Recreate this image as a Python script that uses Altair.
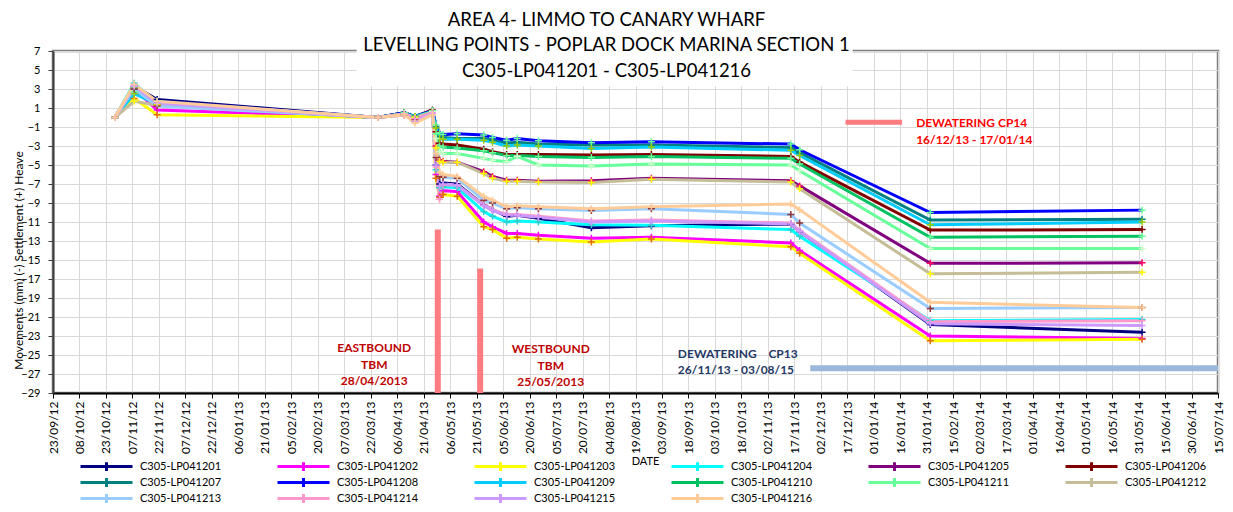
import altair as alt
import pandas as pd

# ---------------- text ----------------
TITLE = ["AREA 4- LIMMO TO CANARY WHARF",
         "LEVELLING POINTS - POPLAR DOCK MARINA SECTION 1",
         "C305-LP041201 - C305-LP041216"]
Y_TITLE = "Movements (mm) (-) Settlement (+) Heave"
X_TITLE = "DATE"

# ---------------- series ----------------
SERIES = ["C305-LP041201", "C305-LP041202", "C305-LP041203", "C305-LP041204",
          "C305-LP041205", "C305-LP041206", "C305-LP041207", "C305-LP041208",
          "C305-LP041209", "C305-LP041210", "C305-LP041211", "C305-LP041212",
          "C305-LP041213", "C305-LP041214", "C305-LP041215", "C305-LP041216"]
LINE_COLORS = ["#000080", "#FF00FF", "#FFFF00", "#00FFFF", "#800080", "#800000",
               "#008080", "#0000FF", "#00CCFF", "#00C060", "#66FF99", "#C4BD97",
               "#99CCFF", "#FF99CC", "#CC99FF", "#FFCC99"]
MARKER_COLORS = ["#000080", "#FF00FF", "#E36C09", "#33CCCC", "#FF0066", "#800000",
                 "#008080", "#66FF99", "#99CC00", "#66FF99", "#CCFFCC", "#FFFF00",
                 "#953735", "#FF99CC", "#CC99FF", "#FFCC99"]

MEAS_DATES = ["2012-10-28", "2012-11-08", "2012-11-21", "2013-03-26", "2013-04-10",
              "2013-04-16", "2013-04-26", "2013-04-28", "2013-04-30", "2013-05-02",
              "2013-05-10", "2013-05-25", "2013-05-30", "2013-06-07", "2013-06-13",
              "2013-06-25", "2013-07-25", "2013-08-28", "2013-11-15", "2013-11-20",
              "2014-02-02", "2014-06-02"]

LP01 = [0, 3.3, 1.9, 0.0, 0.4, 0.1, 0.6, -5.0, -7.0, -6.9, -7.0, -9.2, -9.7, -10.4, -10.3, -10.6, -11.6, -11.4, -11.2, -12.0, -21.8, -22.6]
LP02 = [0, 3.0, 0.8, 0.0, 0.3, 0.0, 0.5, -6.0, -8.3, -7.7, -7.8, -11.0, -11.5, -12.2, -12.2, -12.4, -12.7, -12.6, -13.2, -14.0, -23.0, -23.25]
LP03 = [0, 2.0, 0.3, 0.0, 0.3, 0.0, 0.5, -6.4, -8.4, -8.1, -8.3, -11.5, -11.8, -12.7, -12.6, -12.8, -13.1, -12.8, -13.6, -14.3, -23.5, -23.35]
LP04 = [0, 3.6, 1.5, 0.0, 0.5, 0.1, 0.6, -5.5, -7.4, -7.3, -7.4, -9.9, -10.4, -11.0, -10.9, -11.0, -11.3, -11.35, -11.8, -12.5, -21.4, -21.25]
LP05 = [0, 3.2, 1.3, 0.0, 0.4, 0.0, 0.6, -3.0, -4.5, -4.6, -4.7, -5.7, -6.2, -6.6, -6.6, -6.7, -6.65, -6.4, -6.65, -7.2, -15.35, -15.3]
LP06 = [0, 3.1, 1.4, 0.0, 0.5, 0.1, 0.8, -1.5, -2.7, -2.8, -2.9, -3.35, -3.6, -3.9, -3.9, -3.9, -3.95, -3.9, -4.1, -4.7, -11.85, -11.8]
LP07 = [0, 3.0, 1.6, 0.0, 0.5, 0.1, 0.7, -1.0, -2.0, -2.1, -2.2, -2.2, -2.4, -2.7, -2.6, -2.8, -2.9, -2.9, -3.15, -3.7, -10.8, -10.7]
LP08 = [0, 2.7, 1.7, 0.0, 0.5, 0.1, 0.7, -0.8, -1.6, -1.8, -1.7, -1.85, -2.1, -2.4, -2.2, -2.45, -2.65, -2.55, -2.8, -3.4, -10.0, -9.75]
LP09 = [0, 2.5, 1.4, 0.0, 0.4, 0.1, 0.6, -1.1, -2.2, -2.3, -2.3, -2.4, -2.6, -3.0, -2.9, -3.0, -3.25, -3.1, -3.45, -4.0, -11.3, -11.0]
LP10 = [0, 3.1, 1.5, 0.0, 0.4, 0.0, 0.6, -1.7, -3.0, -3.1, -3.2, -3.5, -3.7, -4.0, -4.0, -4.1, -4.2, -4.1, -4.3, -4.9, -12.6, -12.5]
LP11 = [0, 3.3, 1.6, 0.0, 0.4, 0.0, 0.6, -2.2, -3.6, -3.8, -3.8, -4.3, -4.5, -4.65, -4.1, -5.0, -5.1, -4.9, -5.0, -5.6, -13.8, -13.8]
LP12 = [0, 1.7, 1.3, 0.0, 0.3, 0.0, 0.5, -3.2, -4.6, -4.7, -4.7, -5.9, -6.4, -6.7, -6.7, -6.8, -6.85, -6.5, -6.8, -7.5, -16.45, -16.3]
LP13 = [0, 3.0, 1.2, 0.0, 0.3, -0.2, 0.4, -4.2, -6.2, -6.3, -6.4, -8.7, -9.0, -9.6, -9.5, -9.6, -9.8, -9.6, -10.2, -11.1, -20.1, -20.0]
LP14 = [0, 3.4, 1.6, 0.0, 0.4, -0.1, 0.5, -5.2, -8.6, -7.1, -7.1, -9.2, -9.7, -10.2, -10.2, -10.4, -10.9, -10.8, -11.1, -11.9, -21.5, -21.4]
LP15 = [0, 3.3, 1.5, 0.0, 0.3, -0.4, 0.4, -5.0, -7.2, -7.0, -7.1, -9.3, -9.8, -10.3, -10.3, -10.5, -11.0, -10.9, -11.2, -12.0, -21.7, -21.9]
LP16 = [0, 3.5, 1.7, 0.0, 0.3, -0.6, 0.3, -3.8, -5.8, -6.0, -6.2, -8.3, -8.7, -9.4, -9.3, -9.4, -9.6, -9.4, -9.1, -9.7, -19.45, -20.0]
ALL_SERIES = [LP01, LP02, LP03, LP04, LP05, LP06, LP07, LP08,
              LP09, LP10, LP11, LP12, LP13, LP14, LP15, LP16]

# ---------------- axes ----------------
X_TICKS = ["2012-09-23", "2012-10-08", "2012-10-23", "2012-11-07", "2012-11-22",
           "2012-12-07", "2012-12-22", "2013-01-06", "2013-01-21", "2013-02-05",
           "2013-02-20", "2013-03-07", "2013-03-22", "2013-04-06", "2013-04-21",
           "2013-05-06", "2013-05-21", "2013-06-05", "2013-06-20", "2013-07-05",
           "2013-07-20", "2013-08-04", "2013-08-19", "2013-09-03", "2013-09-18",
           "2013-10-03", "2013-10-18", "2013-11-02", "2013-11-17", "2013-12-02",
           "2013-12-17", "2014-01-01", "2014-01-16", "2014-01-31", "2014-02-15",
           "2014-03-02", "2014-03-17", "2014-04-01", "2014-04-16", "2014-05-01",
           "2014-05-16", "2014-05-31", "2014-06-15", "2014-06-30", "2014-07-15"]
Y_TICKS = [7, 5, 3, 1, -1, -3, -5, -7, -9, -11, -13, -15, -17, -19, -21, -23, -25, -27, -29]
Y_MIN, Y_MAX = -29, 7

# ---------------- annotations ----------------
TBM_BAR_DATES = ["2013-04-29", "2013-05-23"]
TBM_BAR_TOPS = [-11.8, -15.9]
TBM_TEXTS = ["EASTBOUND\nTBM\n28/04/2013", "WESTBOUND\nTBM\n25/05/2013"]
TBM_TEXT_DATES = ["2013-03-24", "2013-07-02"]
TBM_TEXT_Y = [-24.3, -24.4]

CP14_BAR = ["2013-12-16", "2014-01-17"]
CP14_BAR_Y = -0.5
CP14_TEXT = "DEWATERING CP14\n16/12/13 - 17/01/14"
CP14_TEXT_DATE = "2014-01-25"
CP14_TEXT_Y = -0.6

CP13_BAR = ["2013-11-26", "2015-08-03"]
CP13_BAR_Y = -26.4
CP13_TEXT = "DEWATERING\u00a0\u00a0\u00a0\u00a0CP13\n26/11/13 - 03/08/15"
CP13_TEXT_DATE = "2013-09-12"
CP13_TEXT_Y = -24.9

TITLE_BG_X = ["2013-03-14", "2013-12-20"]
TITLE_BG_Y = [3.3, 7.25]

FONT = "Lato"


def dt(s):
    return alt.DateTime(year=int(s[:4]), month=int(s[5:7]), date=int(s[8:10]), utc=True)


rows = []
for name, vals in zip(SERIES, ALL_SERIES):
    for d, v in zip(MEAS_DATES, vals):
        rows.append({"series": name, "date": d, "value": v})
df = pd.DataFrame(rows)

x_scale = alt.Scale(type="utc", domain=[dt(X_TICKS[0]), dt(X_TICKS[-1])], nice=False)
y_scale = alt.Scale(domain=[Y_MIN, Y_MAX], nice=False, zero=False)

x_axis = alt.Axis(values=[dt(s) for s in X_TICKS], format="%d/%m/%y", labelAngle=270,
                  labelFont=FONT, labelFontSize=12, labelColor="black", labelPadding=3,
                  labelOverlap=False, labelFlush=False,
                  tickSize=5, tickColor="#000000", domainColor="#000000", domainWidth=2,
                  grid=True, gridColor="#D9D9D9", gridWidth=1,
                  title=X_TITLE, titleFont=FONT, titleFontSize=11, titleFontWeight="normal",
                  titleColor="black", titleX=592, titleY=68, titleBaseline="middle")
y_axis = alt.Axis(values=Y_TICKS, format="d", labelFont=FONT, labelFontSize=11,
                  labelColor="black", labelPadding=8, tickSize=5, tickColor="#404040",
                  domainColor="#404040", domainWidth=2, grid=True, gridColor="#D9D9D9",
                  gridWidth=1, title=Y_TITLE, titleFont=FONT, titleFontSize=12,
                  titleFontWeight="normal", titleColor="black", titleAngle=270,
                  titleX=-35, titleY=209, titleAlign="center", titleBaseline="middle")

X = lambda f: alt.X(f"{f}:T", scale=x_scale, axis=x_axis)
Y = lambda f: alt.Y(f"{f}:Q", scale=y_scale, axis=y_axis)

bg_df = pd.DataFrame({"x": [TITLE_BG_X[0]], "x2": [TITLE_BG_X[1]],
                      "y": [TITLE_BG_Y[0]], "y2": [TITLE_BG_Y[1]]})
title_bg = alt.Chart(bg_df).mark_rect(color="white").encode(
    x=X("x"), x2="x2:T", y=Y("y"), y2="y2:Q")

tbm_df = pd.DataFrame({"date": TBM_BAR_DATES, "bottom": [Y_MIN] * 2, "top": TBM_BAR_TOPS})
tbm_bars = alt.Chart(tbm_df).mark_rule(color="#FF7C80", strokeWidth=6).encode(
    x=X("date"), y=Y("bottom"), y2="top:Q")

cp14_df = pd.DataFrame({"start": [CP14_BAR[0]], "end": [CP14_BAR[1]], "y": [CP14_BAR_Y]})
cp14_bar = alt.Chart(cp14_df).mark_rule(color="#FF7C80", strokeWidth=5).encode(
    x=X("start"), x2="end:T", y=Y("y"))

cp13_df = pd.DataFrame({"start": [CP13_BAR[0]], "end": [CP13_BAR[1]], "y": [CP13_BAR_Y]})
cp13_bar = alt.Chart(cp13_df).mark_rule(color="#9BB7D9", strokeWidth=6, clip=True).encode(
    x=X("start"), x2="end:T", y=Y("y"))

LEGEND_PATH = "M-6.5,0H6.5M0,-1.1V1.1"
lines = alt.Chart(df).mark_line(strokeWidth=3).encode(
    x=X("date"), y=Y("value"),
    color=alt.Color("series:N", scale=alt.Scale(domain=SERIES, range=LINE_COLORS),
                    legend=alt.Legend(title=None, orient="none", legendX=28, legendY=410,
                                      columns=6, direction="horizontal",
                                      symbolType=LEGEND_PATH, symbolSize=64,
                                      symbolStrokeWidth=3, symbolOffset=20,
                                      labelOffset=28, labelFont=FONT, labelFontSize=11,
                                      labelColor="black", labelLimit=300,
                                      columnPadding=49, rowPadding=-5, padding=0)))

points = alt.Chart(df).mark_point(shape="M-1,0H1M0,-1V1", filled=False, size=49,
                                  strokeWidth=1.5, opacity=1).encode(
    x=X("date"), y=Y("value"),
    stroke=alt.Stroke("series:N", scale=alt.Scale(domain=SERIES, range=MARKER_COLORS),
                      legend=None))

tbm_text_df = pd.DataFrame({"date": TBM_TEXT_DATES, "y": TBM_TEXT_Y, "t": TBM_TEXTS})
tbm_text = alt.Chart(tbm_text_df).mark_text(
    font=FONT, fontSize=12, fontWeight="bold", color="#C00000", align="center",
    baseline="middle", lineBreak="\n", lineHeight=16.5).encode(
    x=X("date"), y=Y("y"), text="t:N")

cp13_text = alt.Chart(pd.DataFrame({"date": [CP13_TEXT_DATE], "y": [CP13_TEXT_Y],
                                    "t": [CP13_TEXT]})).mark_text(
    font=FONT, fontSize=12, fontWeight="bold", color="#1F3864", align="left",
    baseline="middle", lineBreak="\n", lineHeight=16).encode(
    x=X("date"), y=Y("y"), text="t:N")

cp14_text = alt.Chart(pd.DataFrame({"date": [CP14_TEXT_DATE], "y": [CP14_TEXT_Y],
                                    "t": [CP14_TEXT]})).mark_text(
    font=FONT, fontSize=12, fontWeight="bold", color="#FF0000", align="left",
    baseline="middle", lineBreak="\n", lineHeight=16.5).encode(
    x=X("date"), y=Y("y"), text="t:N")

chart = alt.layer(title_bg, tbm_bars, cp14_bar, cp13_bar, lines, points,
                  tbm_text, cp13_text, cp14_text).properties(
    width=1165, height=342,
    title=alt.TitleParams(text=TITLE, font=FONT, fontSize=18.5, fontWeight="normal",
                          color="black", anchor="middle", frame="group", dx=-29,
                          baseline="top", lineHeight=25.5, offset=-35),
    padding={"left": 45, "top": 43, "right": 7, "bottom": 111},
    autosize=alt.AutoSizeParams(type="none"),
    background="white",
).configure_view(stroke="#7F7F7F", strokeWidth=2.5)

chart.save("out.html", embed_options={"renderer": "svg", "actions": False})
